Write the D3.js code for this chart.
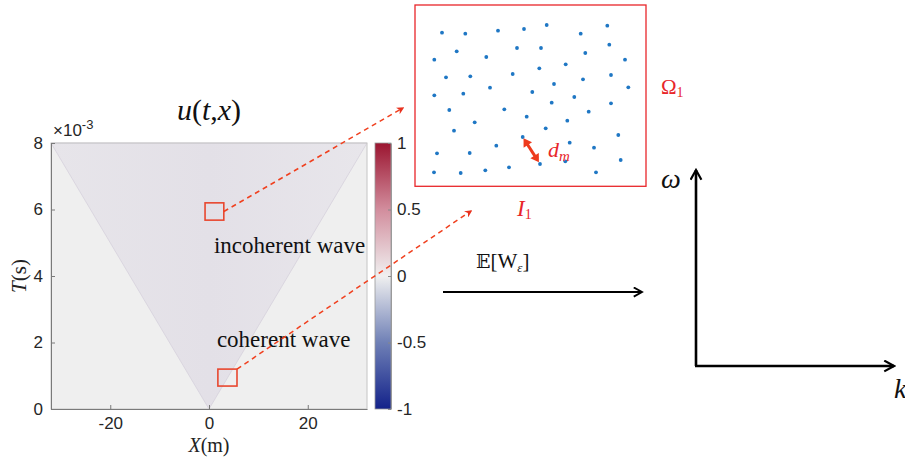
<!DOCTYPE html>
<html><head><meta charset="utf-8">
<script src="https://cdn.jsdelivr.net/npm/d3@7"></script>
<style>body{margin:0;background:#fff}svg{display:block}</style>
</head><body>
<svg id="c" width="905" height="459"></svg>
<script>
// ---------- data ----------
const xTicks = [-20, 0, 20];
const tTicks = [0, 2, 4, 6, 8];
const xDomain = [-32, 32];
const tDomain = [0, 8];
const cbTicks = [-1, -0.5, 0, 0.5, 1];
const cbStops = [-1, -0.5, 0, 0.5, 1];
const cbColors = ["#13228a", "#6f80b6", "#f0f0f0", "#d28d9d", "#9b1530"];
const cone = [[-32, 8], [0, 0], [32, 8]];           // light cone (x, t)
const zoomBoxes = [                                  // x0,x1,t0,t1
  {x0: -0.8, x1: 3.0, t0: 5.68, t1: 6.2},
  {x0: 1.8, x1: 5.67, t0: 0.69, t1: 1.2}
];
const waveLabels = [
  {text: "incoherent wave", x: 1.0, t: 4.7},
  {text: "coherent wave", x: 1.6, t: 1.85}
];
// receiver positions inside Omega_1 (box units 0..231 x 0..181)
const ptsX = [27,50.3,83,109,131.7,165.7,192.3,41.7,102,126,170.3,194.3,19.3,71.3,210,124.3,150.7,31,55.3,97.7,168,196,19.3,48.3,75,117.3,139,159.3,213.3,34.3,89.3,136.7,173.7,196,111.7,59.7,152.3,39,130.7,203.3,107.7,81.3,154.7,179,22,54.7,125,150.3,205.7,19,45.7,70.3,94,181];
const ptsY = [27.7,28.7,25.7,24,20,28.7,20.7,46.3,43,43,48,39.7,54.7,52,54.7,63.3,59.3,72.3,71.3,69,74.3,70,90.3,88.7,82.7,87,79,92,82.3,105,104.3,97.7,106.7,98.3,111.7,117.3,115.7,125.7,123.3,130,132,140.7,137.7,142.7,148.3,148,159,156.3,155,167.3,168,165.3,162.3,167.3];
const dmPair = [40, 46]; // indices of the two points joined by d_m

// ---------- drawing ----------
const svg = d3.select("#c");
const sans = "'Liberation Sans', Arial, sans-serif";
const serif = "'Liberation Serif', 'Times New Roman', serif";
const red = "#e8321f";

const x = d3.scaleLinear().domain(xDomain).range([51, 367]);
const y = d3.scaleLinear().domain(tDomain).range([409, 143]);

svg.append("rect").attr("x", x(xDomain[0])).attr("y", y(tDomain[1]))
  .attr("width", x(xDomain[1]) - x(xDomain[0])).attr("height", y(tDomain[0]) - y(tDomain[1]))
  .attr("fill", "#efefef");
const defs = svg.append("defs");
const g1 = defs.append("linearGradient").attr("id", "coneg").attr("x1", 0).attr("x2", 1).attr("y1", 0).attr("y2", 0);
g1.append("stop").attr("offset", "0%").attr("stop-color", "#e7e5ea");
g1.append("stop").attr("offset", "50%").attr("stop-color", "#e3e0e7");
g1.append("stop").attr("offset", "100%").attr("stop-color", "#e8e6eb");
svg.append("path").attr("d", d3.line().x(d => x(d[0])).y(d => y(d[1]))(cone) + "Z")
  .attr("fill", "url(#coneg)").attr("stroke", "#d6d1dc").attr("stroke-width", 0.8);

svg.append("rect").attr("x", x(xDomain[0])).attr("y", y(tDomain[1]))
  .attr("width", x(xDomain[1]) - x(xDomain[0])).attr("height", y(tDomain[0]) - y(tDomain[1]))
  .attr("fill", "none").attr("stroke", "#c4c4c4").attr("stroke-width", 1);

const xa = svg.append("g").attr("transform", `translate(0,${y(0)})`)
  .call(d3.axisBottom(x).tickValues(xTicks).tickSizeInner(-4).tickSizeOuter(0).tickPadding(8).tickFormat(d3.format("d")));
const ya = svg.append("g").attr("transform", `translate(${x(xDomain[0])},0)`)
  .call(d3.axisLeft(y).tickValues(tTicks).tickSizeInner(-4).tickSizeOuter(0).tickPadding(8).tickFormat(d3.format("d")));
[xa, ya].forEach(a => {
  a.select(".domain").attr("stroke", "#7a7a7a");
  a.selectAll(".tick line").attr("stroke", "#7a7a7a");
  a.selectAll("text").attr("font-family", sans).attr("font-size", 17).attr("fill", "#262626");
});
xa.selectAll(".tick text").text(d => d < 0 ? "-" + Math.abs(d) : d);

const ex = svg.append("text").attr("x", 53).attr("y", 136).attr("font-family", sans).attr("font-size", 17).attr("fill", "#262626");
ex.append("tspan").text("\u00d710");
ex.append("tspan").attr("dy", -7).attr("font-size", 13).text("-3");

const tt = svg.append("text").attr("x", 209).attr("y", 120).attr("text-anchor", "middle").attr("font-family", serif).attr("font-size", 30).attr("fill", "#111");
tt.append("tspan").attr("font-style", "italic").text("u");
tt.append("tspan").text("(");
tt.append("tspan").attr("font-style", "italic").text("t");
tt.append("tspan").text(",");
tt.append("tspan").attr("font-style", "italic").text("x");
tt.append("tspan").text(")");

const xl = svg.append("text").attr("x", x(0)).attr("y", 452).attr("text-anchor", "middle").attr("font-family", serif).attr("font-size", 20).attr("fill", "#222");
xl.append("tspan").attr("font-style", "italic").text("X");
xl.append("tspan").text("(m)");
const yl = svg.append("text").attr("transform", `translate(26,${y(4)}) rotate(-90)`).attr("text-anchor", "middle").attr("font-family", serif).attr("font-size", 21).attr("fill", "#222");
yl.append("tspan").attr("font-style", "italic").text("T");
yl.append("tspan").text("(s)");

svg.selectAll(".wl").data(waveLabels).join("text").attr("class", "wl")
  .attr("x", d => x(d.x)).attr("y", d => y(d.t)).attr("font-family", serif).attr("font-size", 23).attr("fill", "#111")
  .text(d => d.text);

const cy = d3.scaleLinear().domain([-1, 1]).range([409, 143]);
const cg = defs.append("linearGradient").attr("id", "cbg").attr("x1", 0).attr("x2", 0).attr("y1", 1).attr("y2", 0);
cbStops.forEach((s, i) => cg.append("stop").attr("offset", ((s + 1) / 2 * 100) + "%").attr("stop-color", cbColors[i]));
svg.append("rect").attr("x", 375).attr("y", cy(1)).attr("width", 16).attr("height", cy(-1) - cy(1))
  .attr("fill", "url(#cbg)").attr("stroke", "#9a9a9a").attr("stroke-width", 0.8);
const ca = svg.append("g").attr("transform", "translate(391,0)")
  .call(d3.axisRight(cy).tickValues(cbTicks).tickSizeInner(-3).tickSizeOuter(0).tickPadding(6).tickFormat(d => d === 0 ? "0" : (d < 0 ? "-" : "") + Math.abs(d)));
ca.select(".domain").attr("stroke", "#9a9a9a");
ca.selectAll(".tick line").attr("stroke", "#888");
ca.selectAll("text").attr("font-family", sans).attr("font-size", 17).attr("fill", "#262626");

const mk = defs.append("marker").attr("id", "ra").attr("viewBox", "0 0 10 10").attr("refX", 8).attr("refY", 5)
  .attr("markerWidth", 5).attr("markerHeight", 5).attr("orient", "auto");
mk.append("path").attr("d", "M0,0L10,5L0,10L3,5Z").attr("fill", red);

const targets = [[403, 108], [471, 211]];
zoomBoxes.forEach((b, i) => {
  svg.append("rect").attr("x", x(b.x0)).attr("y", y(b.t1)).attr("width", x(b.x1) - x(b.x0)).attr("height", y(b.t0) - y(b.t1))
    .attr("fill", "none").attr("stroke", "#e8472f").attr("stroke-width", 1.6);
  const sx = x(b.x1), sy = i === 0 ? (y(b.t1) + y(b.t0)) / 2 : y(b.t1);
  svg.append("line").attr("x1", sx).attr("y1", sy).attr("x2", targets[i][0]).attr("y2", targets[i][1])
    .attr("stroke", "#f0401f").attr("stroke-width", 1.5).attr("stroke-dasharray", "5,4").attr("marker-end", "url(#ra)");
});

const bx = d3.scaleLinear().domain([0, 231]).range([415, 646]);
const by = d3.scaleLinear().domain([0, 181.3]).range([5, 186.3]);
svg.append("rect").attr("x", bx(0)).attr("y", by(0)).attr("width", bx(231) - bx(0)).attr("height", by(181.3) - by(0))
  .attr("fill", "none").attr("stroke", "#e8262a").attr("stroke-width", 1.3);
svg.selectAll(".pt").data(ptsX.map((v, i) => [v, ptsY[i]])).join("circle").attr("class", "pt")
  .attr("cx", d => bx(d[0])).attr("cy", d => by(d[1])).attr("r", 1.9).attr("fill", "#1f77c4");

const pA = [bx(ptsX[dmPair[0]]), by(ptsY[dmPair[0]])], pB = [bx(ptsX[dmPair[1]]), by(ptsY[dmPair[1]])];
const dxv = pB[0] - pA[0], dyv = pB[1] - pA[1], L = Math.hypot(dxv, dyv);
const ux = dxv / L, uy = dyv / L, nx = -uy, ny = ux;
const a1 = [pA[0] + ux * 1.5, pA[1] + uy * 1.5], a2 = [pB[0] - ux * 2, pB[1] - uy * 2];
const hl = 8, hw = 5;
svg.append("line").attr("x1", a1[0] + ux * 5).attr("y1", a1[1] + uy * 5).attr("x2", a2[0] - ux * 5).attr("y2", a2[1] - uy * 5)
  .attr("stroke", "#ee3a1c").attr("stroke-width", 3);
[[a1, 1], [a2, -1]].forEach(([p, s]) => {
  const bxp = p[0] + s * ux * hl, byp = p[1] + s * uy * hl;
  svg.append("path").attr("d", `M${p[0]},${p[1]}L${bxp + nx * hw},${byp + ny * hw}L${bxp - nx * hw},${byp - ny * hw}Z`)
    .attr("fill", "#ee3a1c");
});
const dm = svg.append("text").attr("x", 548).attr("y", 157).attr("font-family", serif).attr("font-size", 22).attr("fill", "#e8262a").attr("font-style", "italic");
dm.append("tspan").text("d");
dm.append("tspan").attr("dy", 4).attr("font-size", 15).text("m");

const om = svg.append("text").attr("x", 661).attr("y", 94).attr("font-family", serif).attr("font-size", 21).attr("fill", "#e8262a");
om.append("tspan").text("\u03a9");
om.append("tspan").attr("dy", 3).attr("font-size", 14).text("1");
const il = svg.append("text").attr("x", 517).attr("y", 216).attr("font-family", serif).attr("font-size", 23).attr("fill", "#e8262a");
il.append("tspan").attr("font-style", "italic").text("I");
il.append("tspan").attr("dy", 3).attr("font-size", 14).text("1");

const mk3 = defs.append("marker").attr("id", "ba").attr("viewBox", "0 0 12 12").attr("refX", 10).attr("refY", 6)
  .attr("markerWidth", 5).attr("markerHeight", 5).attr("markerUnits", "strokeWidth").attr("orient", "auto");
mk3.append("path").attr("d", "M1,1L10,6L1,11").attr("fill", "none").attr("stroke", "#000").attr("stroke-width", 2);
svg.append("line").attr("x1", 443).attr("y1", 292).attr("x2", 642).attr("y2", 292)
  .attr("stroke", "#000").attr("stroke-width", 2.2).attr("marker-end", "url(#ba)");
const ew = svg.append("text").attr("x", 476).attr("y", 268).attr("font-family", serif).attr("font-size", 21).attr("fill", "#111");
ew.append("tspan").attr("font-family", "'DejaVu Serif', 'DejaVu Sans', serif").attr("font-size", 19).text("\ud835\udd3c");
ew.append("tspan").text("[W");
ew.append("tspan").attr("dy", 4).attr("font-size", 13).attr("font-style", "italic").text("\u03b5");
ew.append("tspan").attr("dy", -4).text("]");

svg.append("path").attr("d", "M696,366V170").attr("stroke", "#000").attr("stroke-width", 2.6).attr("fill", "none").attr("marker-end", "url(#ba)");
svg.append("path").attr("d", "M695,366H894").attr("stroke", "#000").attr("stroke-width", 2.6).attr("fill", "none").attr("marker-end", "url(#ba)");
svg.append("text").attr("x", 661).attr("y", 188).attr("font-family", serif).attr("font-size", 28).attr("font-style", "italic").attr("fill", "#111").text("\u03c9");
svg.append("text").attr("x", 894).attr("y", 398).attr("font-family", serif).attr("font-size", 28).attr("font-style", "italic").attr("fill", "#111").text("k");
</script>
</body></html>
